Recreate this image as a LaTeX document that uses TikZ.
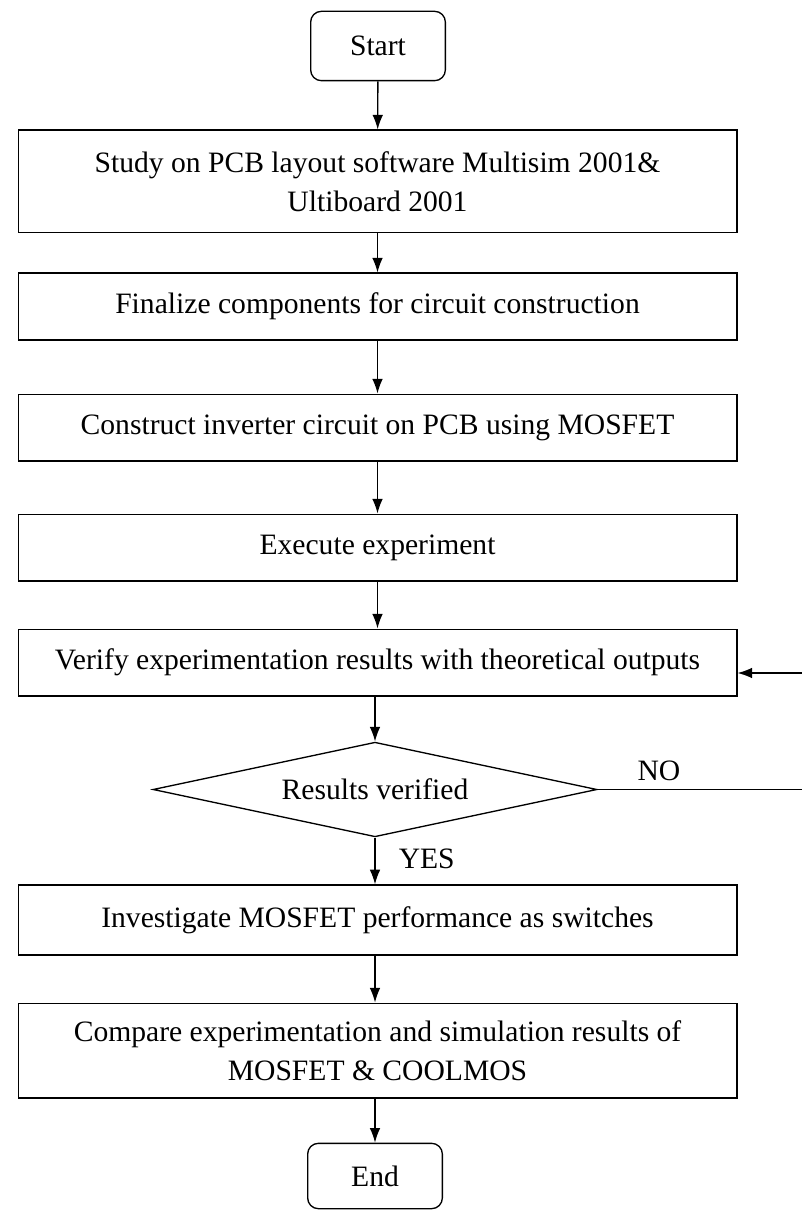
\documentclass[tikz,border=0pt]{standalone}
\usepackage{fontspec}
\setmainfont{Liberation Serif}
\usetikzlibrary{shapes.geometric,arrows.meta}
\tikzset{
	stepbox/.style={draw, line width=1pt, minimum width=539pt, minimum height=50pt, align=center, inner sep=2pt},
	termbox/.style={draw, rounded corners=8pt, line width=1pt, minimum width=101pt, minimum height=52pt},
	decide/.style={draw, diamond, aspect=4.67, line width=1pt, inner sep=0pt, minimum width=333pt, minimum height=71pt},
	arr/.style={-{Latex[length=11pt,width=8pt]}, line width=1pt},
}
\begin{document}
\begin{tikzpicture}[x=0.75pt, y=-0.75pt, font=\fontsize{22.2}{29}\selectfont]
	\useasboundingbox (0,0) rectangle (802,1212);
	\node[termbox] (start) at (378,46) {Start};
	\node[stepbox, minimum height=77pt] (study) at (377.5,181.5) {Study on PCB layout software Multisim 2001\&\\Ultiboard 2001};
	\node[stepbox] (final) at (377.5,306.5) {Finalize components for circuit construction};
	\node[stepbox] (build) at (377.5,427.5) {Construct inverter circuit on PCB using MOSFET};
	\node[stepbox] (exec) at (377.5,547.5) {Execute experiment};
	\node[stepbox] (verify) at (377.5,662.5) {Verify experimentation results with theoretical outputs};
	\node[decide] (check) at (375,789.5) {Results verified};
	\node[stepbox, minimum height=52.5pt] (invest) at (377.5,920) {Investigate MOSFET performance as switches};
	\node[stepbox, minimum height=71pt] (comp) at (377.5,1050.5) {Compare experimentation and simulation results of\\MOSFET \& COOLMOS};
	\node[termbox, minimum height=49pt] (end) at (375,1176) {End};
	\coordinate (noout) at (802,789.5);
	\coordinate (back) at (802,673);
	\draw[arr] (start) -- (study);
	\draw[arr] (study) -- (final);
	\draw[arr] (final) -- (build);
	\draw[arr] (build) -- (exec);
	\draw[arr] (exec) -- (verify);
	\draw[arr] (verify.south -| check.north) -- (check);
	\draw[arr] (check) -- node[pos=0.45, right=14pt] {YES} (invest.north -| check.south);
	\draw[line width=1pt] (check.east) -- node[pos=0.3, above=3pt] {NO} (noout);
	\draw[arr] (back) -- (back -| verify.east);
	\draw[arr] (invest.south -| check.south) -- (comp.north -| check.south);
	\draw[arr] (comp.south -| end.north) -- (end);
\end{tikzpicture}
\end{document}
